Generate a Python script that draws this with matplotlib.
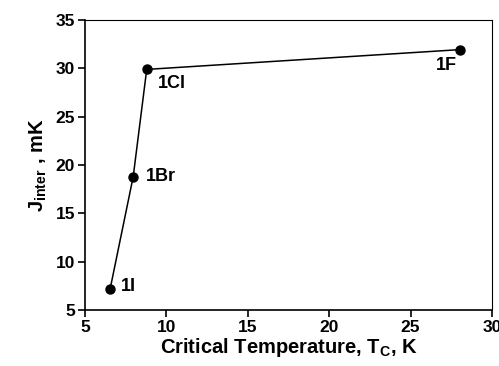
import matplotlib
matplotlib.use("Agg")
import matplotlib.pyplot as plt

# data
tc = [6.55, 7.97, 8.8, 28.05]
j_inter = [7.15, 18.8, 29.9, 31.95]
names = ["1I", "1Br", "1Cl", "1F"]
# label offsets in points (dx, dy, ha, va)
offsets = [(8, 2, "left", "center"), (9, 0, "left", "center"),
           (8, -4, "left", "top"), (-10, -5, "center", "top")]

plt.rcParams["font.family"] = "Liberation Sans"
plt.rcParams["font.weight"] = "bold"
plt.rcParams["mathtext.fontset"] = "custom"
plt.rcParams["mathtext.rm"] = "Liberation Sans:bold"
plt.rcParams["mathtext.it"] = "Liberation Sans:bold"
plt.rcParams["mathtext.bf"] = "Liberation Sans:bold"

fig = plt.figure(figsize=(4.99, 3.66), dpi=100)
ax = fig.add_axes([0.170, 0.153, 0.816, 0.792])

ax.plot(tc, j_inter, color="black", lw=1.1, marker="o", ms=6.5, zorder=3)

for x, y, n, (dx, dy, ha, va) in zip(tc, j_inter, names, offsets):
    ax.annotate(n, (x, y), xytext=(dx, dy), textcoords="offset points",
                ha=ha, va=va, fontsize=13, fontweight="bold")

ax.set_xlim(5, 30)
ax.set_ylim(5, 35)
ax.set_xticks(range(5, 31, 5))
ax.set_yticks(range(5, 36, 5))
ax.tick_params(direction="out", length=5, width=1.2, labelsize=12.5, pad=2)
for s in ax.spines.values():
    s.set_linewidth(1.2)
ax.spines["top"].set_linewidth(0.8)
ax.spines["right"].set_linewidth(0.8)

ax.set_xlabel(r"Critical Temperature, T$_{\rm C}$, K", fontsize=14.5,
              fontweight="bold", labelpad=1)
ax.set_ylabel(r"J$_{\rm inter}$ , mK", fontsize=14.5, fontweight="bold",
              labelpad=5)

fig.savefig("out.png", dpi=100)
